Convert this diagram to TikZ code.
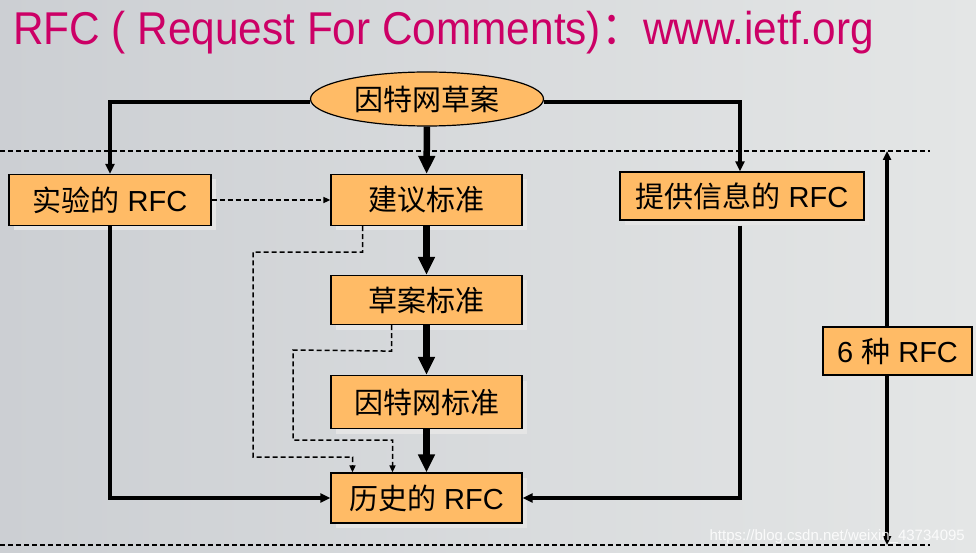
\documentclass[tikz,border=0pt]{standalone}
\usepackage{fontspec}
\setmainfont{Liberation Sans}
\newfontfamily\cjk{Noto Sans CJK SC}
\usetikzlibrary{shapes,arrows.meta,positioning,shadows}
\definecolor{rfcorange}{RGB}{255,187,102}
\definecolor{rfctitle}{RGB}{204,0,102}

\begin{document}
\begin{tikzpicture}[x=1pt,y=1pt,
  rfcbox/.style={rectangle,draw,line width=1.2pt,fill=rfcorange,inner sep=0pt,font=\fontsize{29}{31}\selectfont,
    general shadow={fill=white!80!gray,shadow xshift=5pt,shadow yshift=-5pt}},
  bigarrow/.style={line width=6.5pt,-{Triangle[length=18pt,width=16pt]}},
  feedarrow/.style={line width=3.5pt,-{Triangle[length=10pt,width=9pt]}},
  dasharrow/.style={line width=1.5pt,dash pattern=on 5pt off 3pt,-{Triangle[length=7pt,width=6pt]}},
  border/.style={line width=1.2pt,dash pattern=on 5pt off 3pt}]

       \shade [left color={rgb,255:red,204;green,207;blue,211},right color={rgb,255:red,228;green,230;blue,230}] (0,0) rectangle (976,552);
       \useasboundingbox (0,0) rectangle (976,552);

       \node [anchor=base west,text=rfctitle,inner sep=0pt,font=\fontsize{46}{50}\selectfont] (title) at (13,507)
             {\scalebox{0.92}[1]{RFC ( Request For Comments){\cjk ：}www.ietf.org}};

       \draw [border] (0,401) -- (930,401);
       \draw [border] (0,7) -- (930,7);

       \node [ellipse,draw,line width=1.2pt,fill=rfcorange,minimum width=233pt,minimum height=54pt,inner sep=0pt,font=\fontsize{29}{31}\selectfont] (draft) at (427,453) {\cjk 因特网草案};
       \node [rfcbox,minimum width=202pt,minimum height=51pt] (exp)  at (110,352)   {{\cjk 实验的} RFC};
       \node [rfcbox,minimum width=191pt,minimum height=51pt] (prop) at (426.5,352) {\cjk 建议标准};
       \node [rfcbox,minimum width=191pt,minimum height=49pt] (dstd) at (426.5,252) {\cjk 草案标准};
       \node [rfcbox,minimum width=191pt,minimum height=53pt] (istd) at (426.5,150) {\cjk 因特网标准};
       \node [rfcbox,minimum width=191pt,minimum height=50pt] (hist) at (426.5,54)  {{\cjk 历史的} RFC};
       \node [rfcbox,minimum width=244pt,minimum height=48pt] (info) at (742,356)   {{\cjk 提供信息的} RFC};

       \draw [bigarrow] (draft) -- (prop);
       \draw [bigarrow] (prop) -- (dstd);
       \draw [bigarrow] (dstd) -- (istd);
       \draw [bigarrow] (istd) -- (hist);

       \draw [feedarrow] ([yshift=-3pt]draft.west) -| (exp.north);
       \draw [feedarrow] ([yshift=-3pt]draft.east) -| ([xshift=-2pt]info.north);
       \draw [feedarrow] (exp.south) |- (hist.west);
       \draw [feedarrow] ([xshift=-2pt,yshift=-5pt]info.south) |- (hist.east);

       \draw [dasharrow] (exp) -- (prop);
       \draw [dasharrow] ([xshift=-64pt]prop.south) -- ++(0,-26) -- (253,300) -- (253,95) -| ([xshift=-74pt]hist.north);
       \draw [dasharrow] ([xshift=-35pt]dstd.south) -- ++(0,-26) -- (293,202) -- (293,112) -| ([xshift=-34pt]hist.north);

       \coordinate (up) at (887,401);
       \coordinate (dn) at (887,7);
       \node [rfcbox,minimum width=149pt,minimum height=48pt,general shadow={}] (six) at (897.5,201) {6 {\cjk 种} RFC};
       \draw [line width=3.5pt,-{Triangle[length=9pt,width=8pt]}] (six.north -| up) -- (up);
       \draw [line width=3.5pt,-{Triangle[length=9pt,width=8pt]}] (six.south -| dn) -- (dn);

       \node [anchor=base east,text=white,opacity=0.85,inner sep=0pt,font=\fontsize{15}{17}\selectfont] (mark) at (965,12) {https://blog.csdn.net/weixin\_43734095};
\end{tikzpicture}
\end{document}
